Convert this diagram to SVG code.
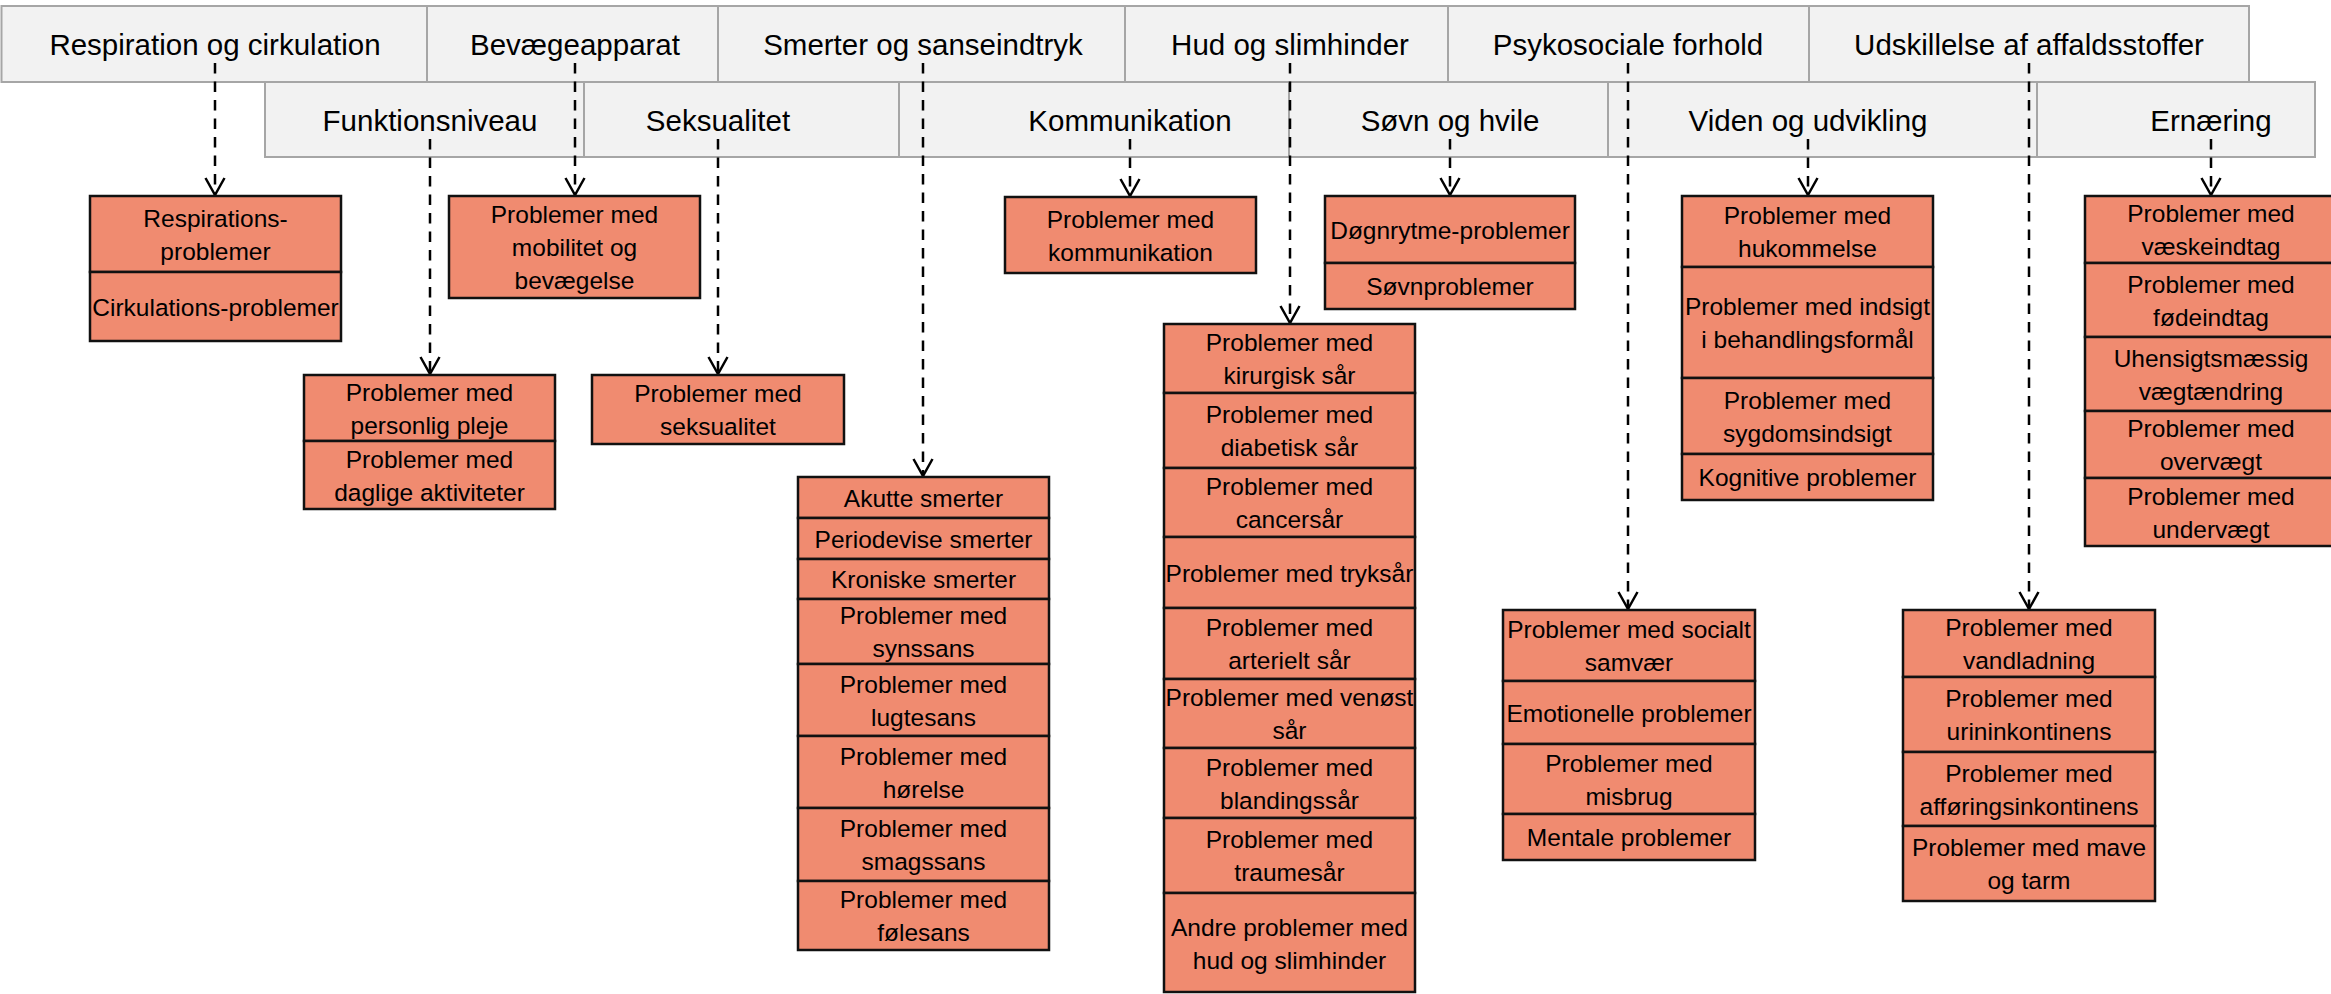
<svg xmlns="http://www.w3.org/2000/svg" width="2331" height="994" viewBox="0 0 2331 994">
<style>
.hd{fill:#F2F2F2;stroke:#A6A6A6;stroke-width:2}
.ht{font-family:"Liberation Sans",Arial,sans-serif;font-size:29.5px;fill:#000;text-anchor:middle}
.c{fill:#F08B70;stroke:#111;stroke-width:2.5}
.t{font-family:"Liberation Sans",Arial,sans-serif;font-size:24.5px;fill:#000;text-anchor:middle}
.cn{fill:none;stroke:#000;stroke-width:2.5;stroke-dasharray:10.5 8}
</style>
<defs>
<marker id="arr" markerUnits="userSpaceOnUse" markerWidth="24" markerHeight="24" viewBox="-20 -12 24 24" refX="0" refY="0" orient="auto" overflow="visible">
<path d="M-17,-9.5 L0,0 L-17,9.5" fill="none" stroke="#000" stroke-width="2.5"/>
</marker>
</defs>
<rect width="2331" height="994" fill="#fff"/>

<g id="headers-top">
<g id="h-resp"><rect class="hd" x="1.5" y="6" width="425.5" height="76"/><text class="ht" x="215" y="55">Respiration og cirkulation</text></g>
<g id="h-bev"><rect class="hd" x="427" y="6" width="291" height="76"/><text class="ht" x="575" y="55">Bevægeapparat</text></g>
<g id="h-smert"><rect class="hd" x="718" y="6" width="407" height="76"/><text class="ht" x="923" y="55">Smerter og sanseindtryk</text></g>
<g id="h-hud"><rect class="hd" x="1125" y="6" width="323" height="76"/><text class="ht" x="1290" y="55">Hud og slimhinder</text></g>
<g id="h-psyk"><rect class="hd" x="1448" y="6" width="361" height="76"/><text class="ht" x="1628" y="55">Psykosociale forhold</text></g>
<g id="h-udsk"><rect class="hd" x="1809" y="6" width="440" height="76"/><text class="ht" x="2029" y="55">Udskillelse af affaldsstoffer</text></g>
</g>
<g id="headers-second">
<g id="h-funk"><rect class="hd" x="265" y="82" width="319" height="75"/><text class="ht" x="430" y="131">Funktionsniveau</text></g>
<g id="h-seks"><rect class="hd" x="584" y="82" width="315" height="75"/><text class="ht" x="718" y="131">Seksualitet</text></g>
<g id="h-komm"><rect class="hd" x="899" y="82" width="390" height="75"/><text class="ht" x="1130" y="131">Kommunikation</text></g>
<g id="h-sovn"><rect class="hd" x="1289" y="82" width="319" height="75"/><text class="ht" x="1450" y="131">Søvn og hvile</text></g>
<g id="h-viden"><rect class="hd" x="1608" y="82" width="429" height="75"/><text class="ht" x="1808" y="131">Viden og udvikling</text></g>
<g id="h-ern"><rect class="hd" x="2037" y="82" width="278" height="75"/><text class="ht" x="2211" y="131">Ernæring</text></g>
</g>

<g id="connectors">
<line class="cn" x1="215" y1="63" x2="215" y2="195" marker-end="url(#arr)"/>
<line class="cn" x1="575" y1="63" x2="575" y2="195" marker-end="url(#arr)"/>
<line class="cn" x1="923" y1="63" x2="923" y2="476" marker-end="url(#arr)"/>
<line class="cn" x1="1290" y1="63" x2="1290" y2="323" marker-end="url(#arr)"/>
<line class="cn" x1="1628" y1="63" x2="1628" y2="609" marker-end="url(#arr)"/>
<line class="cn" x1="2029" y1="63" x2="2029" y2="609" marker-end="url(#arr)"/>
<line class="cn" x1="430" y1="139" x2="430" y2="374" marker-end="url(#arr)"/>
<line class="cn" x1="718" y1="139" x2="718" y2="374" marker-end="url(#arr)"/>
<line class="cn" x1="1130" y1="139" x2="1130" y2="196" marker-end="url(#arr)"/>
<line class="cn" x1="1450" y1="139" x2="1450" y2="195" marker-end="url(#arr)"/>
<line class="cn" x1="1808" y1="139" x2="1808" y2="195" marker-end="url(#arr)"/>
<line class="cn" x1="2211" y1="139" x2="2211" y2="195" marker-end="url(#arr)"/>
</g>

<g id="n-resp">
<rect class="c" x="90" y="196" width="251" height="76"/>
<rect class="c" x="90" y="272" width="251" height="69"/>
<text class="t" x="215.5" y="226.5">Respirations-</text><text class="t" x="215.5" y="259.5">problemer</text>
<text class="t" x="215.5" y="315.5">Cirkulations-problemer</text>
</g>
<g id="n-bev">
<rect class="c" x="449" y="196" width="251" height="102"/>
<text class="t" x="574.5" y="223">Problemer med</text><text class="t" x="574.5" y="256">mobilitet og</text><text class="t" x="574.5" y="289">bevægelse</text>
</g>
<g id="n-funk">
<rect class="c" x="304" y="375" width="251" height="66"/>
<rect class="c" x="304" y="441" width="251" height="68"/>
<text class="t" x="429.5" y="400.5">Problemer med</text><text class="t" x="429.5" y="433.5">personlig pleje</text>
<text class="t" x="429.5" y="467.5">Problemer med</text><text class="t" x="429.5" y="500.5">daglige aktiviteter</text>
</g>
<g id="n-seks">
<rect class="c" x="592" y="375" width="252" height="69"/>
<text class="t" x="718" y="402">Problemer med</text><text class="t" x="718" y="435">seksualitet</text>
</g>
<g id="n-smert">
<rect class="c" x="798" y="477" width="251" height="41"/>
<rect class="c" x="798" y="518" width="251" height="41"/>
<rect class="c" x="798" y="559" width="251" height="40"/>
<rect class="c" x="798" y="599" width="251" height="65"/>
<rect class="c" x="798" y="664" width="251" height="72"/>
<rect class="c" x="798" y="736" width="251" height="72"/>
<rect class="c" x="798" y="808" width="251" height="73"/>
<rect class="c" x="798" y="881" width="251" height="69"/>
<text class="t" x="923.5" y="506.5">Akutte smerter</text>
<text class="t" x="923.5" y="547.5">Periodevise smerter</text>
<text class="t" x="923.5" y="588">Kroniske smerter</text>
<text class="t" x="923.5" y="624">Problemer med</text><text class="t" x="923.5" y="657">synssans</text>
<text class="t" x="923.5" y="692.5">Problemer med</text><text class="t" x="923.5" y="725.5">lugtesans</text>
<text class="t" x="923.5" y="764.5">Problemer med</text><text class="t" x="923.5" y="797.5">hørelse</text>
<text class="t" x="923.5" y="837">Problemer med</text><text class="t" x="923.5" y="870">smagssans</text>
<text class="t" x="923.5" y="908">Problemer med</text><text class="t" x="923.5" y="941">følesans</text>
</g>
<g id="n-komm">
<rect class="c" x="1005" y="197" width="251" height="76"/>
<text class="t" x="1130.5" y="227.5">Problemer med</text><text class="t" x="1130.5" y="260.5">kommunikation</text>
</g>
<g id="n-hud">
<rect class="c" x="1164" y="324" width="251" height="69"/>
<rect class="c" x="1164" y="393" width="251" height="75"/>
<rect class="c" x="1164" y="468" width="251" height="69"/>
<rect class="c" x="1164" y="537" width="251" height="71"/>
<rect class="c" x="1164" y="608" width="251" height="71"/>
<rect class="c" x="1164" y="679" width="251" height="69"/>
<rect class="c" x="1164" y="748" width="251" height="70"/>
<rect class="c" x="1164" y="818" width="251" height="75"/>
<rect class="c" x="1164" y="893" width="251" height="99"/>
<text class="t" x="1289.5" y="351">Problemer med</text><text class="t" x="1289.5" y="384">kirurgisk sår</text>
<text class="t" x="1289.5" y="423">Problemer med</text><text class="t" x="1289.5" y="456">diabetisk sår</text>
<text class="t" x="1289.5" y="495">Problemer med</text><text class="t" x="1289.5" y="528">cancersår</text>
<text class="t" x="1289.5" y="581.5">Problemer med tryksår</text>
<text class="t" x="1289.5" y="636">Problemer med</text><text class="t" x="1289.5" y="669">arterielt sår</text>
<text class="t" x="1289.5" y="706">Problemer med venøst</text><text class="t" x="1289.5" y="739">sår</text>
<text class="t" x="1289.5" y="775.5">Problemer med</text><text class="t" x="1289.5" y="808.5">blandingssår</text>
<text class="t" x="1289.5" y="848">Problemer med</text><text class="t" x="1289.5" y="881">traumesår</text>
<text class="t" x="1289.5" y="935.5">Andre problemer med</text><text class="t" x="1289.5" y="968.5">hud og slimhinder</text>
</g>
<g id="n-sovn">
<rect class="c" x="1325" y="196" width="250" height="67"/>
<rect class="c" x="1325" y="263" width="250" height="46"/>
<text class="t" x="1450" y="238.5">Døgnrytme-problemer</text>
<text class="t" x="1450" y="295">Søvnproblemer</text>
</g>
<g id="n-viden">
<rect class="c" x="1682" y="196" width="251" height="71"/>
<rect class="c" x="1682" y="267" width="251" height="111"/>
<rect class="c" x="1682" y="378" width="251" height="76"/>
<rect class="c" x="1682" y="454" width="251" height="46"/>
<text class="t" x="1807.5" y="224">Problemer med</text><text class="t" x="1807.5" y="257">hukommelse</text>
<text class="t" x="1807.5" y="315">Problemer med indsigt</text><text class="t" x="1807.5" y="348">i behandlingsformål</text>
<text class="t" x="1807.5" y="408.5">Problemer med</text><text class="t" x="1807.5" y="441.5">sygdomsindsigt</text>
<text class="t" x="1807.5" y="486">Kognitive problemer</text>
</g>
<g id="n-psyk">
<rect class="c" x="1503" y="610" width="252" height="71"/>
<rect class="c" x="1503" y="681" width="252" height="63"/>
<rect class="c" x="1503" y="744" width="252" height="70"/>
<rect class="c" x="1503" y="814" width="252" height="46"/>
<text class="t" x="1629" y="638">Problemer med socialt</text><text class="t" x="1629" y="671">samvær</text>
<text class="t" x="1629" y="721.5">Emotionelle problemer</text>
<text class="t" x="1629" y="771.5">Problemer med</text><text class="t" x="1629" y="804.5">misbrug</text>
<text class="t" x="1629" y="846">Mentale problemer</text>
</g>
<g id="n-udsk">
<rect class="c" x="1903" y="610" width="252" height="67"/>
<rect class="c" x="1903" y="677" width="252" height="75"/>
<rect class="c" x="1903" y="752" width="252" height="74"/>
<rect class="c" x="1903" y="826" width="252" height="75"/>
<text class="t" x="2029" y="636">Problemer med</text><text class="t" x="2029" y="669">vandladning</text>
<text class="t" x="2029" y="707">Problemer med</text><text class="t" x="2029" y="740">urininkontinens</text>
<text class="t" x="2029" y="781.5">Problemer med</text><text class="t" x="2029" y="814.5">afføringsinkontinens</text>
<text class="t" x="2029" y="856">Problemer med mave</text><text class="t" x="2029" y="889">og tarm</text>
</g>
<g id="n-ern">
<rect class="c" x="2085" y="196" width="252" height="67"/>
<rect class="c" x="2085" y="263" width="252" height="74"/>
<rect class="c" x="2085" y="337" width="252" height="74"/>
<rect class="c" x="2085" y="411" width="252" height="67"/>
<rect class="c" x="2085" y="478" width="252" height="68"/>
<text class="t" x="2211" y="222">Problemer med</text><text class="t" x="2211" y="255">væskeindtag</text>
<text class="t" x="2211" y="292.5">Problemer med</text><text class="t" x="2211" y="325.5">fødeindtag</text>
<text class="t" x="2211" y="366.5">Uhensigtsmæssig</text><text class="t" x="2211" y="399.5">vægtændring</text>
<text class="t" x="2211" y="437">Problemer med</text><text class="t" x="2211" y="470">overvægt</text>
<text class="t" x="2211" y="504.5">Problemer med</text><text class="t" x="2211" y="537.5">undervægt</text>
</g>
</svg>
